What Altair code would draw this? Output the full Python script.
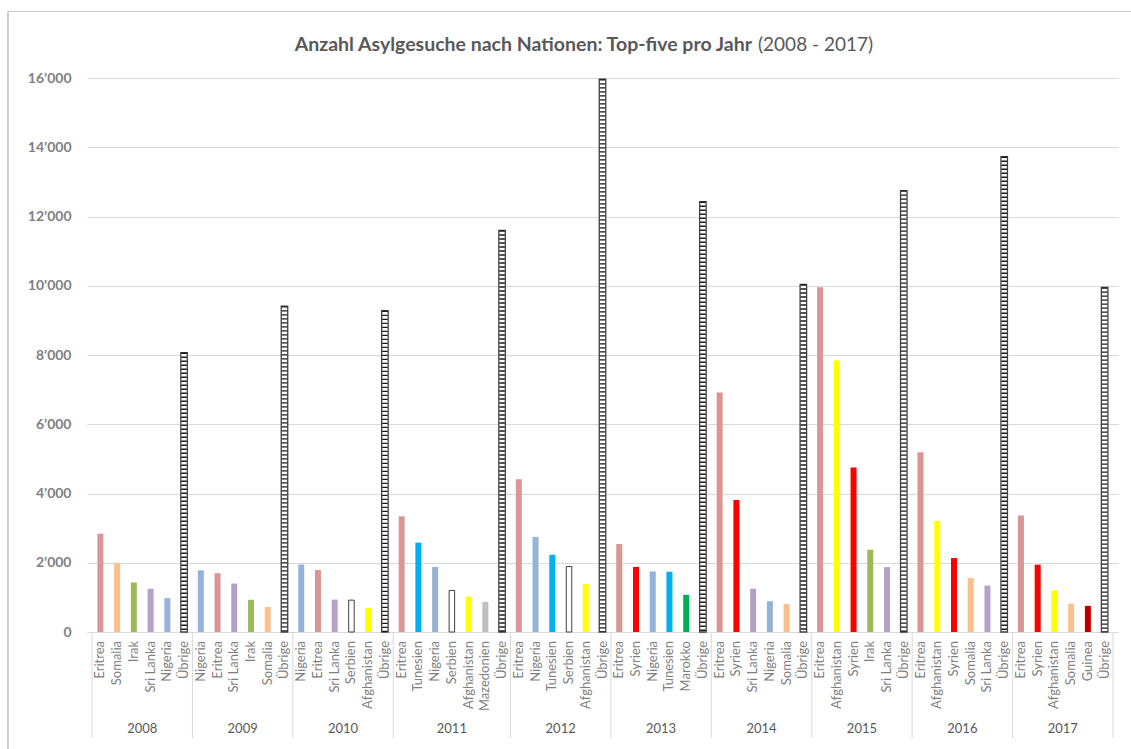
import altair as alt
import pandas as pd

# Asylum applications in Switzerland: top five nationalities per year, plus the rest ("Übrige")
years = ["2008", "2009", "2010", "2011", "2012", "2013", "2014", "2015", "2016", "2017"]

countries_2008 = ["Eritrea", "Somalia", "Irak", "Sri Lanka", "Nigeria"]
values_2008 = [2840, 2000, 1430, 1250, 980]
countries_2009 = ["Nigeria", "Eritrea", "Sri Lanka", "Irak", "Somalia"]
values_2009 = [1780, 1700, 1400, 930, 720]
countries_2010 = ["Nigeria", "Eritrea", "Sri Lanka", "Serbien", "Afghanistan"]
values_2010 = [1950, 1790, 935, 920, 690]
countries_2011 = ["Eritrea", "Tunesien", "Nigeria", "Serbien", "Afghanistan", "Mazedonien"]
values_2011 = [3340, 2580, 1880, 1200, 1020, 870]
countries_2012 = ["Eritrea", "Nigeria", "Tunesien", "Serbien", "Afghanistan"]
values_2012 = [4410, 2745, 2230, 1890, 1385]
countries_2013 = ["Eritrea", "Syrien", "Nigeria", "Tunesien", "Marokko"]
values_2013 = [2540, 1880, 1750, 1740, 1075]
countries_2014 = ["Eritrea", "Syrien", "Sri Lanka", "Nigeria", "Somalia"]
values_2014 = [6920, 3815, 1250, 890, 810]
countries_2015 = ["Eritrea", "Afghanistan", "Syrien", "Irak", "Sri Lanka"]
values_2015 = [9960, 7840, 4750, 2375, 1875]
countries_2016 = ["Eritrea", "Afghanistan", "Syrien", "Somalia", "Sri Lanka"]
values_2016 = [5190, 3210, 2135, 1560, 1340]
countries_2017 = ["Eritrea", "Syrien", "Afghanistan", "Somalia", "Guinea"]
values_2017 = [3365, 1945, 1200, 820, 755]

others = [8070, 9410, 9280, 11600, 15964, 12430, 10040, 12750, 13730, 9950]

palette_countries = ["Eritrea", "Somalia", "Irak", "Sri Lanka", "Nigeria", "Serbien",
                     "Afghanistan", "Mazedonien", "Tunesien", "Syrien", "Marokko", "Guinea"]
palette_fill = ["#DA9694", "#FAC090", "#9BBB59", "#B3A2C7", "#95B3D7", "#FFFFFF",
                "#FFFF00", "#BFBFBF", "#00B0F0", "#FF0000", "#00B050", "#C00000"]

country_lists = [countries_2008, countries_2009, countries_2010, countries_2011, countries_2012,
                 countries_2013, countries_2014, countries_2015, countries_2016, countries_2017]
value_lists = [values_2008, values_2009, values_2010, values_2011, values_2012,
               values_2013, values_2014, values_2015, values_2016, values_2017]

# One slot per bar, grouped by year
rows, groups = [], []
slot = 0
for year, cs, vs, rest in zip(years, country_lists, value_lists, others):
    start = slot
    for c, v in zip(cs + ["Übrige"], vs + [rest]):
        rows.append({"year": year, "country": c, "value": v, "base": 0, "pos": slot + 0.5})
        slot += 1
    groups.append({"year": year, "start": start, "mid": (start + slot) / 2})
n_slots = slot
bars = pd.DataFrame(rows)
group_df = pd.DataFrame(groups)
edges = pd.DataFrame({"edge": list(group_df["start"]) + [n_slots]})

W, H = 1031, 554
xs = alt.Scale(domain=[0, n_slots], nice=False, zero=False)
ys = alt.Scale(domain=[0, 16000], nice=False)

y_axis = alt.Axis(values=list(range(0, 16001, 2000)), grid=True, gridColor="#d9d9d9",
                  gridWidth=1, domain=False, ticks=False, labelPadding=16,
                  labelFont="Lato", labelFontSize=14, labelFontWeight="bold",
                  labelColor="#7f7f7f",
                  labelExpr="replace(format(datum.value, ','), ',', '\u2019')")

x_pos = alt.X("pos:Q", scale=xs, axis=None)
y_val = alt.Y("value:Q", scale=ys, title=None, axis=y_axis)

base = alt.Chart(bars)

country_bars = base.transform_filter(
    (alt.datum.country != "Übrige") & (alt.datum.country != "Serbien")
).mark_bar(width=6).encode(
    x=x_pos,
    y=y_val,
    color=alt.Color("country:N", scale=alt.Scale(domain=palette_countries, range=palette_fill), legend=None),
)

serbia_bars = base.transform_filter(alt.datum.country == "Serbien").mark_bar(
    width=5.5, fill="#ffffff", stroke="#404040", strokeWidth=1
).encode(x=x_pos, y=y_val)

rest = base.transform_filter(alt.datum.country == "Übrige")
rest_box = rest.mark_bar(width=6.5, fill="#ffffff", stroke="#404040", strokeWidth=1.3).encode(
    x=x_pos, y=y_val
)
rest_hatch = rest.mark_rule(strokeWidth=5.5, color="#1a1a1a", strokeDash=[1.3, 2.7]).encode(
    x=x_pos, y=y_val, y2="base:Q"
)

country_labels = base.mark_text(
    angle=270, align="right", baseline="middle", font="Lato", fontSize=13, color="#7f7f7f"
).encode(x=x_pos, y=alt.value(H + 9), text="country:N")

separators = alt.Chart(edges).mark_rule(color="#d9d9d9", strokeWidth=1).encode(
    x=alt.X("edge:Q", scale=xs, axis=None), y=alt.value(H), y2=alt.value(H + 106)
)

year_labels = alt.Chart(group_df).mark_text(
    baseline="middle", font="Lato", fontSize=13, color="#595959"
).encode(x=alt.X("mid:Q", scale=xs, axis=None), y=alt.value(H + 97), text="year:N")

title_df = pd.DataFrame({"main": ["Anzahl Asylgesuche nach Nationen: Top-five pro Jahr"],
                         "span": ["(2008 - 2017)"]})
title_main = alt.Chart(title_df).mark_text(
    align="right", baseline="middle", font="Lato", fontSize=19.5, fontWeight="bold", color="#595959"
).encode(x=alt.value(665), y=alt.value(-33), text="main:N")
title_span = alt.Chart(title_df).mark_text(
    align="left", baseline="middle", font="Lato", fontSize=19, color="#595959"
).encode(x=alt.value(671), y=alt.value(-33), text="span:N")

# Outer frame (left and top edges)
frame_left = alt.Chart(title_df).mark_rule(color="#b0b0b0", strokeWidth=1.2).encode(
    x=alt.value(-79), y=alt.value(-66.5), y2=alt.value(H + 140)
)
frame_top = alt.Chart(title_df).mark_rule(color="#c8c8c8", strokeWidth=1.2).encode(
    x=alt.value(-79), x2=alt.value(W + 40), y=alt.value(-66.5)
)

chart = alt.layer(
    country_bars, serbia_bars, rest_box, rest_hatch, separators,
    country_labels, year_labels, title_main, title_span, frame_left, frame_top
).properties(
    width=W, height=H,
    autosize=alt.AutoSizeParams(type="none"),
    padding={"left": 87, "top": 78, "right": 13, "bottom": 117},
    background="#ffffff",
).configure_view(stroke=None)

chart.save("out.html", embed_options={"renderer": "svg", "actions": False})
